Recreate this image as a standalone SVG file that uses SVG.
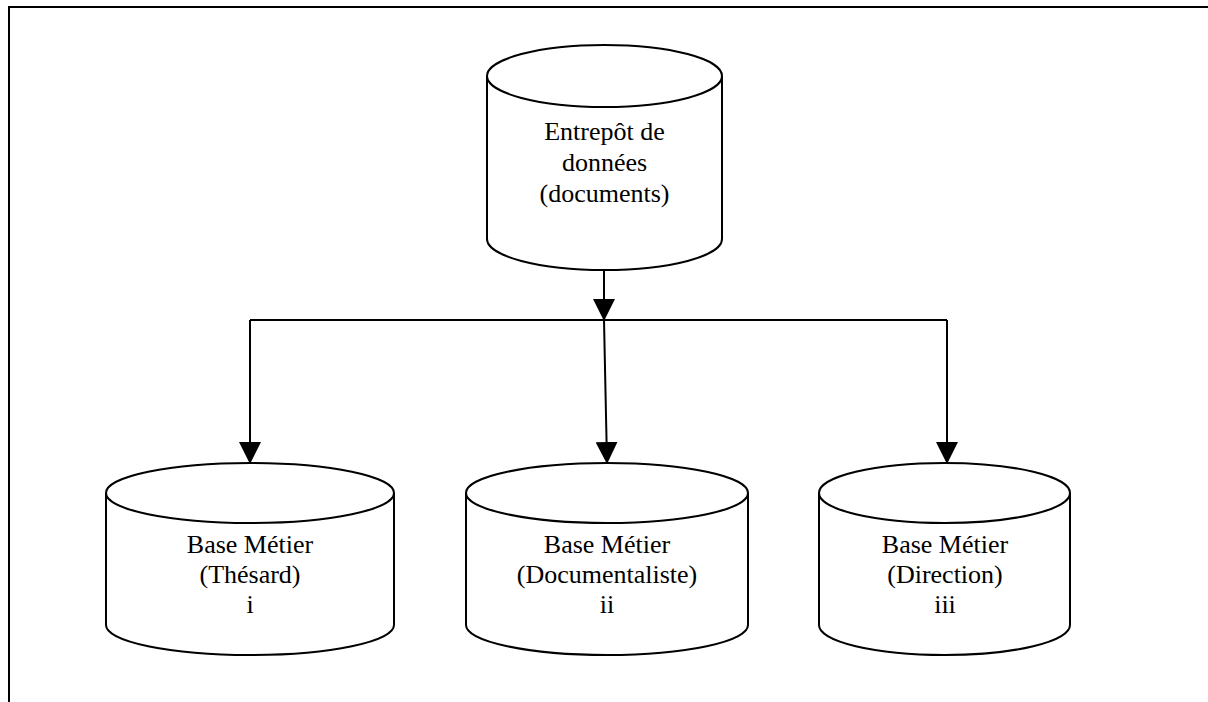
<svg xmlns="http://www.w3.org/2000/svg" width="1208" height="702" viewBox="0 0 1208 702">
<defs>
<style>
.cyl{fill:#fff;stroke:#000;stroke-width:2}
.lbl{font-family:"Liberation Serif","Times New Roman",serif;font-size:26px;fill:#000;text-anchor:middle}
.con{fill:none;stroke:#000;stroke-width:2}
</style>
<marker id="arr" markerUnits="userSpaceOnUse" markerWidth="22" markerHeight="22" viewBox="0 0 22 22" refX="21" refY="11" orient="auto">
<path d="M0,0 L22,11 L0,22 Z" fill="#000"/>
</marker>
</defs>
<rect width="1208" height="702" fill="#fff"/>
<path d="M9,702 V7 H1208" fill="none" stroke="#000" stroke-width="2"/>
<g id="entrepot">
<path class="cyl" d="M487,76 A117.5,31 0 0 1 722,76 V239 A117.5,31 0 0 1 487,239 Z"/>
<path class="cyl" d="M487,76 A117.5,31 0 0 0 722,76" fill="none"/>
<text class="lbl" x="604.5" y="140">Entrepôt de</text>
<text class="lbl" x="604.5" y="171">données</text>
<text class="lbl" x="604.5" y="202">(documents)</text>
</g>
<g id="base-these">
<path class="cyl" d="M106,493 A144,30 0 0 1 394,493 V625 A144,30 0 0 1 106,625 Z"/>
<path class="cyl" d="M106,493 A144,30 0 0 0 394,493" fill="none"/>
<text class="lbl" x="250" y="553">Base Métier</text>
<text class="lbl" x="250" y="583">(Thésard)</text>
<text class="lbl" x="250" y="613">i</text>
</g>
<g id="base-doc">
<path class="cyl" d="M466,493 A141,30 0 0 1 748,493 V625 A141,30 0 0 1 466,625 Z"/>
<path class="cyl" d="M466,493 A141,30 0 0 0 748,493" fill="none"/>
<text class="lbl" x="607" y="553">Base Métier</text>
<text class="lbl" x="607" y="583">(Documentaliste)</text>
<text class="lbl" x="607" y="613">ii</text>
</g>
<g id="base-direction">
<path class="cyl" d="M819,493 A125.5,30 0 0 1 1070,493 V625 A125.5,30 0 0 1 819,625 Z"/>
<path class="cyl" d="M819,493 A125.5,30 0 0 0 1070,493" fill="none"/>
<text class="lbl" x="945" y="553">Base Métier</text>
<text class="lbl" x="945" y="583">(Direction)</text>
<text class="lbl" x="945" y="613">iii</text>
</g>
<g id="connectors">
<line class="con" x1="604" y1="270" x2="604" y2="320" marker-end="url(#arr)"/>
<line class="con" x1="250" y1="320" x2="947" y2="320"/>
<line class="con" x1="250" y1="320" x2="250" y2="463" marker-end="url(#arr)"/>
<line class="con" x1="604" y1="320" x2="607" y2="463" marker-end="url(#arr)"/>
<line class="con" x1="947" y1="320" x2="947" y2="463" marker-end="url(#arr)"/>
</g>
</svg>
